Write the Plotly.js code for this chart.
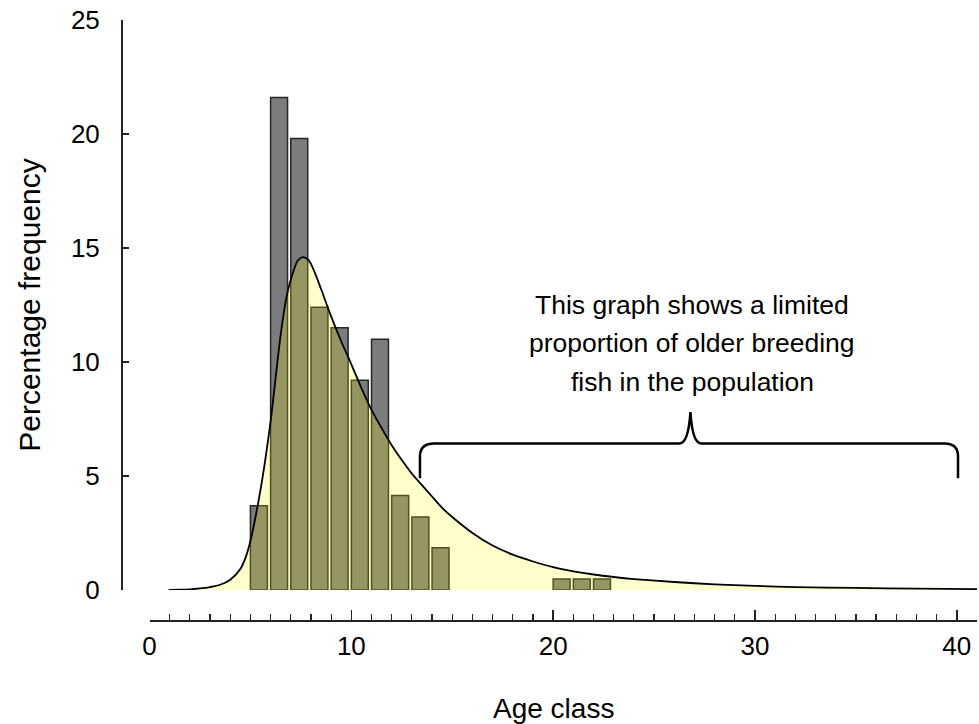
<!DOCTYPE html>
<html>
<head>
<meta charset="utf-8">
<script src="https://cdn.plot.ly/plotly-3.0.1.min.js"></script>
<style>html,body{margin:0;padding:0;background:#fff;}#chart{width:979px;height:724px;}</style>
</head>
<body>
<div id="chart"></div>
<script>
// Histogram: age class vs percentage frequency
var ageClasses = [5, 6, 7, 8, 9, 10, 11, 12, 13, 14, 20, 21, 22];
var percentFreq = [3.7, 21.6, 19.8, 12.4, 11.5, 9.2, 11.0, 4.15, 3.2, 1.85, 0.48, 0.48, 0.48];

// Fitted distribution curve
var curveAge = [0.95, 1.5, 2.0, 2.5, 3.0, 3.5, 4.0, 4.5, 4.75, 5.0, 5.5, 6.0, 6.5, 6.8, 7.1, 7.35, 7.6, 7.9, 8.2, 8.5, 9.0, 9.5, 10.0, 10.5, 11.0, 11.5, 12.0, 12.5, 13.0, 13.5, 14.0, 14.5, 15.0, 16.0, 17.0, 18.0, 19.0, 20.0, 21.0, 22.0, 23.0, 24.0, 26.0, 28.0, 30.0, 32.0, 35.0, 38.0, 41.0];
var curveFreq = [0.0, 0.01, 0.03, 0.07, 0.13, 0.23, 0.45, 0.92, 1.4, 2.15, 4.4, 7.4, 11.2, 12.9, 13.9, 14.45, 14.6, 14.45, 13.9, 13.2, 12.0, 10.9, 9.9, 8.85, 7.9, 7.1, 6.35, 5.7, 5.1, 4.6, 4.1, 3.6, 3.2, 2.5, 1.95, 1.55, 1.25, 1.0, 0.82, 0.68, 0.57, 0.48, 0.35, 0.25, 0.18, 0.13, 0.09, 0.06, 0.04];

var xTickVals = [0, 10, 20, 30, 40];
var xTickText = ['0', '10', '20', '30', '40'];
var yTickVals = [0, 5, 10, 15, 20, 25];
var yTickText = ['0', '5', '10', '15', '20', '25'];

var noteLines = ['This graph shows a limited', 'proportion of older breeding', 'fish in the population'];
var noteY = [12.5, 10.83, 9.12];

var FONT = 'Liberation Sans, Arial, sans-serif';

var traces = [
  {
    type: 'bar',
    x: ageClasses,
    y: percentFreq,
    width: 0.84,
    offset: 0,
    marker: {color: '#7c7c7c', line: {color: '#262626', width: 1.5}},
    hoverinfo: 'x+y',
    showlegend: false
  },
  {
    type: 'scatter',
    mode: 'lines',
    x: curveAge,
    y: curveFreq,
    line: {color: '#000000', width: 1.8, shape: 'spline', smoothing: 0.8},
    fill: 'tozeroy',
    fillcolor: 'rgba(255,255,0,0.2)',
    showlegend: false
  }
];

var annotations = noteLines.map(function (t, i) {
  return {
    text: t, x: 26.9, y: noteY[i], xref: 'x', yref: 'y',
    xanchor: 'center', yanchor: 'middle', showarrow: false,
    font: {family: FONT, size: 26.5, color: '#000'}
  };
});
annotations.push({
  text: 'Age class', x: 20, xref: 'x', y: -0.148, yref: 'paper',
  xanchor: 'center', yanchor: 'middle', showarrow: false,
  font: {family: FONT, size: 28, color: '#000'}
});

var layout = {
  width: 979, height: 724,
  margin: {l: 121, r: 2, t: 20, b: 104},
  paper_bgcolor: '#ffffff', plot_bgcolor: 'rgba(0,0,0,0)',
  font: {family: FONT, color: '#000'},
  xaxis: {
    domain: [0.0333, 1], range: [0, 41],
    anchor: 'free', position: 0,
    showline: true, linecolor: '#222', linewidth: 1.5,
    showgrid: false, zeroline: false,
    tickmode: 'array', tickvals: xTickVals, ticktext: xTickText,
    ticks: 'inside', ticklen: 10, tickwidth: 1.5, tickcolor: '#222',
    minor: {dtick: 1, ticks: 'inside', ticklen: 6, tickwidth: 1.2, tickcolor: '#222', showgrid: false},
    tickfont: {family: FONT, size: 26, color: '#000'},
    ticklabelstandoff: 2,
    fixedrange: true
  },
  yaxis: {
    domain: [0.05, 1], range: [0, 25],
    anchor: 'free', position: 0,
    showline: true, linecolor: '#222', linewidth: 1.5,
    showgrid: false, zeroline: false,
    tickmode: 'array', tickvals: yTickVals, ticktext: yTickText,
    ticks: 'inside', ticklen: 6, tickwidth: 1.5, tickcolor: '#222',
    tickfont: {family: FONT, size: 26, color: '#000'},
    ticklabelstandoff: 16,
    title: {text: 'Percentage frequency', font: {family: FONT, size: 30, color: '#000'}, standoff: 20},
    fixedrange: true
  },
  annotations: annotations,
  shapes: [{
    type: 'path', xref: 'x', yref: 'y', layer: 'above',
    path: 'M 13.4,4.9 L 13.4,5.85 Q 13.4,6.42 14.1,6.42 L 26.25,6.42 Q 26.7,6.42 26.8,7.8 Q 26.9,6.42 27.35,6.42 L 39.4,6.42 Q 40.06,6.42 40.06,5.85 L 40.06,4.9',
    line: {color: '#000', width: 2.5}
  }]
};

Plotly.newPlot('chart', traces, layout, {displayModeBar: false, staticPlot: true});
</script>
</body>
</html>
